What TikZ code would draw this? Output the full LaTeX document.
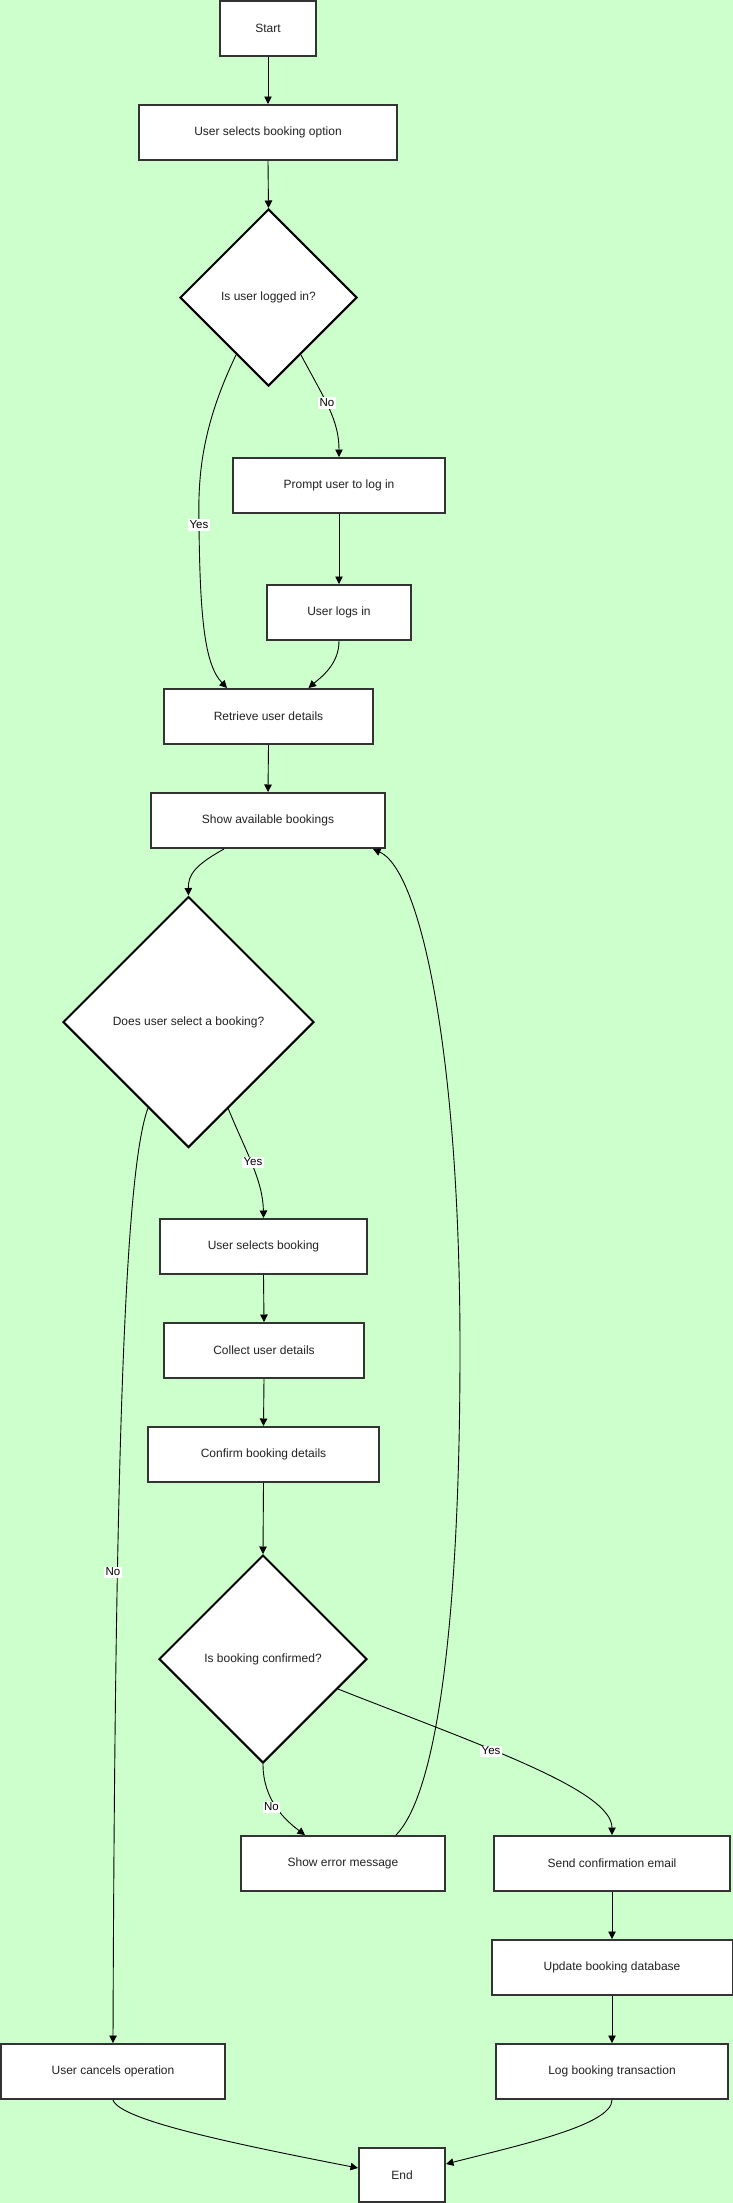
\documentclass[tikz,border=0pt]{standalone}
\usepackage{fontspec}
\setmainfont{Liberation Sans}
\usetikzlibrary{arrows.meta,calc,shapes.geometric}
\definecolor{bg}{HTML}{CCFFCC}
\definecolor{bordc}{HTML}{333333}
\definecolor{txtc}{HTML}{222222}
\begin{document}
\begin{tikzpicture}[x=1pt,y=-1pt,
  every node/.style={font=\fontsize{12}{14}\selectfont, text=txtc},
  box/.style={draw=bordc, line width=2pt, fill=white, rectangle, inner sep=0pt, minimum height=55pt},
  dia/.style={draw=black, line width=2pt, fill=white, diamond, aspect=1, inner sep=0pt},
  conn/.style={draw=black, line width=0.9pt, -{Triangle[length=7.5pt,width=7.5pt]}},
  lbl/.style={fill=white, inner sep=1.5pt, font=\fontsize{11.5}{13}\selectfont, text=black}]
\useasboundingbox (0,0) rectangle (733,2203);
\fill[bg] (0,0) rectangle (733,2203);

% nodes
\node[box, minimum width=96pt]  (start) at (268,28.5) {Start};
\node[box, minimum width=258pt] (usbo)  at (268,132.5) {User selects booking option};
\node[dia, minimum width=177pt, minimum height=177pt] (d1) at (268.5,297.5) {Is user logged in?};
\node[box, minimum width=212pt] (prompt) at (339,485.5) {Prompt user to log in};
\node[box, minimum width=144pt] (logs)  at (339,612.5) {User logs in};
\node[box, minimum width=209pt] (retr)  at (268.5,716.5) {Retrieve user details};
\node[box, minimum width=234pt] (sab)   at (268,820.5) {Show available bookings};
\node[dia, minimum width=251pt, minimum height=251pt] (d2) at (188.5,1022) {Does user select a booking?};
\node[box, minimum width=207pt] (usb)   at (263.5,1246.5) {User selects booking};
\node[box, minimum width=200pt] (coll)  at (264,1350.5) {Collect user details};
\node[box, minimum width=231pt] (conf)  at (263.5,1454.5) {Confirm booking details};
\node[dia, minimum width=208pt, minimum height=208pt] (d3) at (263,1659) {Is booking confirmed?};
\node[box, minimum width=204pt] (err)   at (343,1863.5) {Show error message};
\node[box, minimum width=236pt] (send)  at (612,1863.5) {Send confirmation email};
\node[box, minimum width=241pt] (upd)   at (612,1967.5) {Update booking database};
\node[box, minimum width=232pt] (logt)  at (612,2071.5) {Log booking transaction};
\node[box, minimum width=224pt] (canc)  at (113,2071.5) {User cancels operation};
\node[box, minimum width=86pt, minimum height=54pt] (endn) at (402,2175) {End};

% connectors
\draw[conn] (start.south) -- (usbo.north);
\draw[conn] (usbo.south) -- (d1.north);
\draw[conn] ($(d1.center)+(-32.5,57.5)$) .. controls (200,430) and (198,480) .. (199,525)
   .. controls (200,620) and (205,665) .. ($(retr.north)+(-41.5,0)$);
\draw[conn] ($(d1.center)+(32.5,57.5)$) .. controls (325,400) and (339,420) .. (prompt.north);
\draw[conn] (prompt.south) -- (logs.north);
\draw[conn] (logs.south) .. controls (339,665) and (320,678) .. ($(retr.north)+(40,0)$);
\draw[conn] (retr.south) -- (sab.north);
\draw[conn] ($(sab.south)+(-44,0)$) .. controls (195,865) and (188,875) .. (d2.north);
\draw[conn] ($(d2.center)+(39.5,86)$) .. controls (245,1150) and (263,1180) .. (usb.north);
\draw[conn] ($(d2.center)+(-40.5,86)$) .. controls (125,1170) and (115,1450) .. (canc.north);
\draw[conn] (usb.south) -- (coll.north);
\draw[conn] (coll.south) -- (conf.north);
\draw[conn] (conf.south) -- (d3.north);
\draw[conn] (d3.south) .. controls (263,1800) and (285,1820) .. ($(err.north)+(-38,0)$);
\draw[conn] ($(d3.center)+(75,30)$) .. controls (480,1745) and (612,1790) .. (send.north);
\draw[conn] ($(err.north)+(53,0)$) .. controls (440,1790) and (460,1600) .. (460,1350)
   .. controls (460,1050) and (420,870) .. ($(sab.south)+(105,0)$);
\draw[conn] (send.south) -- (upd.north);
\draw[conn] (upd.south) -- (logt.north);
\draw[conn] (canc.south) .. controls (120,2120) and (230,2143) .. ($(endn.west)+(0,-7)$);
\draw[conn] (logt.south) .. controls (612,2125) and (520,2145) .. ($(endn.east)+(0,-11)$);

% edge labels
\node[lbl] (lno1)  at (327,403) {No};
\node[lbl] (lyes1) at (199,525) {Yes};
\node[lbl] (lyes2) at (253,1162) {Yes};
\node[lbl] (lno2)  at (113,1572) {No};
\node[lbl] (lno3)  at (271.5,1807) {No};
\node[lbl] (lyes3) at (491,1751) {Yes};
\end{tikzpicture}
\end{document}
